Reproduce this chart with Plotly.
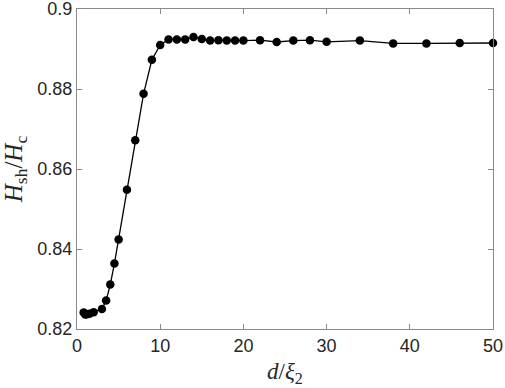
import plotly.graph_objects as go

d_over_xi = [0.8, 1.0, 1.2, 1.5, 2, 3, 3.5, 4, 4.5, 5, 6, 7, 8, 9, 10, 11, 12, 13, 14, 15,
             16, 17, 18, 19, 20, 22, 24, 26, 28, 30, 34, 38, 42, 46, 50]
hsh_hc = [0.8241, 0.8236, 0.8237, 0.8238, 0.8242, 0.8250, 0.8271, 0.8311, 0.8364, 0.8424,
          0.8548, 0.8672, 0.8788, 0.8873, 0.8910, 0.8924, 0.8924, 0.8924, 0.8930, 0.8925,
          0.8921, 0.8922, 0.8921, 0.8921, 0.8921, 0.8922, 0.89175, 0.8921, 0.8922, 0.8918,
          0.8921, 0.8914, 0.8914, 0.8915, 0.8915]
x_ticks = [0, 10, 20, 30, 40, 50]
y_ticks = [0.82, 0.84, 0.86, 0.88, 0.9]
y_tick_labels = ["0.82", "0.84", "0.86", "0.88", "0.9"]

fig = go.Figure(go.Scatter(
    x=d_over_xi, y=hsh_hc, mode="lines+markers",
    line=dict(color="black", width=1.3),
    marker=dict(color="black", size=8.5),
    cliponaxis=False,
))

axis_common = dict(
    showgrid=False, zeroline=False, showline=True, linecolor="#8a8a8a", linewidth=1,
    mirror="ticks", ticks="inside", ticklen=5, tickcolor="#8a8a8a",
    ticklabeloverflow="allow", automargin=False,
    tickfont=dict(family="Liberation Sans, Arial, sans-serif", size=18, color="#262626"),
)
xlabel_font = dict(family="Liberation Serif, DejaVu Serif, serif", size=23, color="#262626")
ylabel_font = dict(family="Liberation Serif, DejaVu Serif, serif", size=25, color="#262626")

fig.update_layout(
    width=505, height=388,
    margin=dict(l=77, r=12, t=9, b=59),
    paper_bgcolor="white", plot_bgcolor="white",
    showlegend=False,
    xaxis=dict(range=[0, 50], tickvals=x_ticks,
               title=dict(text="<i>d</i>/<i>ξ</i><sub>2</sub>", standoff=8, font=xlabel_font),
               **axis_common),
    yaxis=dict(range=[0.82, 0.9], tickvals=y_ticks, ticktext=y_tick_labels,
               title=dict(text="<i>H</i><sub>sh</sub>/<i>H</i><sub>c</sub>", standoff=8, font=ylabel_font),
               **axis_common),
)

fig.write_html("out.html", config={"displayModeBar": False},
               post_script="document.body.style.margin='0';document.body.style.overflow='hidden';")
